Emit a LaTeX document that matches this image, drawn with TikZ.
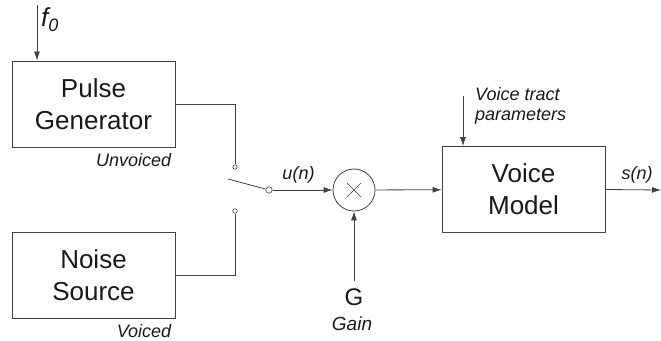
\documentclass[tikz,border=0pt]{standalone}
\usepackage{fontspec}
\setmainfont{Liberation Sans}
\usetikzlibrary{arrows.meta, positioning}
\definecolor{linegray}{RGB}{65,65,65}
\definecolor{textgray}{RGB}{25,25,25}

\begin{document}
\begin{tikzpicture}[
    x=1pt, y=1pt,
    block/.style={
        rectangle, draw=linegray, line width=0.8pt, inner sep=0pt,
        minimum width=163pt, minimum height=86pt, align=center,
        text=textgray, font=\fontsize{26}{32}\selectfont
    },
    mixer/.style={circle, draw=linegray, line width=0.8pt, minimum size=42pt, inner sep=0pt},
    contact/.style={circle, draw=linegray, line width=0.6pt, fill=white, minimum size=4.5pt, inner sep=0pt},
    pivot/.style={contact, minimum size=6.5pt},
    sig/.style={font=\itshape\fontsize{18}{20}\selectfont, text=textgray, inner sep=1pt, align=left},
    wire/.style={draw=linegray, line width=0.8pt},
    arrow/.style={wire, -{Latex[length=9pt,width=6pt]}},
    node distance=4pt
]
\useasboundingbox (0,0) rectangle (661,340);

% blocks
\node [block] (pulse) at (93.5,236) {Pulse\\Generator};
\node [block] (noise) at (93.5,64.5) {Noise\\Source};
\node [block] (voice) at (523.5,150.5) {Voice\\Model};
\node [mixer] (mult) at (354,150) {};

% switch
\node [contact] (up) at (235,173) {};
\node [contact] (down) at (235,129) {};
\node [pivot] (out) at (269,150) {};
\coordinate (blade) at (228,161);

% labels
\node [sig, anchor=base east] (unvoiced) at ([xshift=-3pt, yshift=-19pt]pulse.south east) {Unvoiced};
\node [sig, anchor=base east] (voiced) at ([xshift=-3pt, yshift=-18.5pt]noise.south east) {Voiced};
\node [font=\itshape, text=textgray, anchor=base west, inner sep=0pt] (fzero) at (41,313)
    {{\fontsize{26}{26}\selectfont f}\raisebox{-5pt}{\fontsize{18}{18}\selectfont 0}};
\node [sig, anchor=base] (un) at (298.5,160) {u(n)};
\node [sig, anchor=base] (sn) at (637,160) {s(n)};
\node [sig, anchor=north west] (tract) at (474,254) {Voice tract\\parameters};
\node [font=\fontsize{24}{24}\selectfont, text=textgray] (gain) at (354,43) {G};
\node [sig, font=\itshape\fontsize{19}{20}\selectfont, anchor=base] (gainlbl) at (352,10) {Gain};

\coordinate (ftop) at (37,335);
\coordinate (vtop) at (463,244);
\coordinate (send) at (661,150);

% connections
\draw [arrow] (ftop) -- (ftop |- pulse.north);
\draw [wire] (pulse.east) -| (up.north);
\draw [wire] (noise.east) -| (down.south);
\draw [wire] (blade) -- (out);
\draw [arrow] (out) -- (mult);
\draw [arrow] ([yshift=4pt]gain.north) -- (mult);
\draw [arrow] (mult) -- (voice);
\draw [arrow] (vtop) -- (vtop |- voice.north);
\draw [arrow] (voice.east) -- (send);
\draw [wire, line width=0.6pt] ([shift={(-7,-7)}]mult.center) -- ([shift={(7,7)}]mult.center);
\draw [wire, line width=0.6pt] ([shift={(-7,7)}]mult.center) -- ([shift={(7,-7)}]mult.center);
\end{tikzpicture}
\end{document}
